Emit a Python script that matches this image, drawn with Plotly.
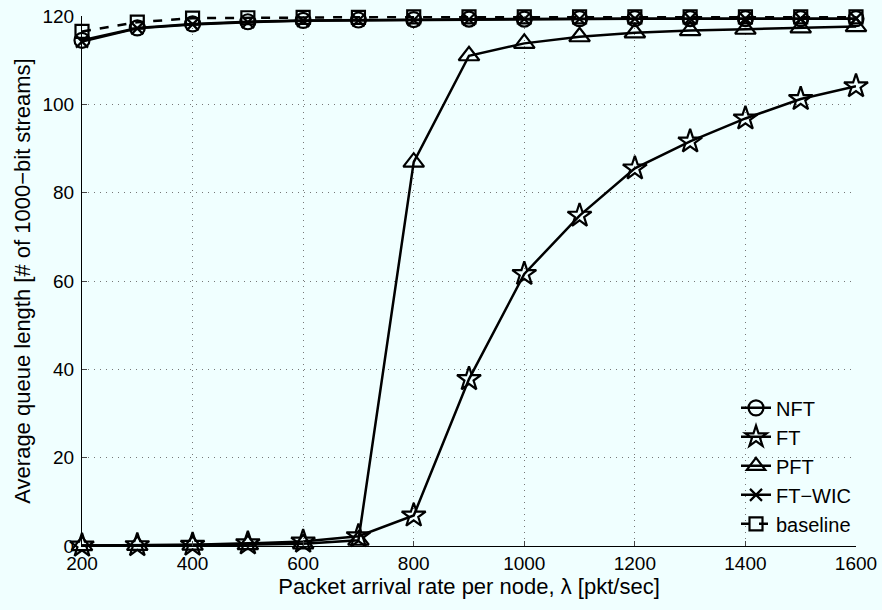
import plotly.graph_objects as go

# Packet arrival rate per node (pkt/sec)
arrival_rate = [200, 300, 400, 500, 600, 700, 800, 900, 1000, 1100, 1200, 1300, 1400, 1500, 1600]

# Average queue length for each scheme
nft = [114.5, 117.3, 118.2, 118.7, 119.0, 119.1, 119.2, 119.3, 119.3, 119.4, 119.4, 119.4, 119.4, 119.4, 119.4]
ft = [0.1, 0.2, 0.3, 0.6, 1.0, 2.2, 6.9, 37.8, 61.6, 74.8, 85.5, 91.6, 96.8, 101.2, 104.1]
pft = [0.1, 0.15, 0.2, 0.3, 0.5, 1.3, 86.9, 111.0, 113.8, 115.3, 116.2, 116.7, 117.0, 117.3, 117.6]
ft_wic = [114.2, 117.2, 118.1, 118.6, 118.9, 119.0, 119.1, 119.2, 119.3, 119.3, 119.4, 119.4, 119.4, 119.4, 119.4]
baseline = [116.5, 118.6, 119.5, 119.6, 119.7, 119.7, 119.8, 119.8, 119.8, 119.8, 119.8, 119.8, 119.8, 119.8, 119.8]

x_ticks = [200, 400, 600, 800, 1000, 1200, 1400, 1600]
y_ticks = [0, 20, 40, 60, 80, 100, 120]

series = [
    ("NFT", nft, "circle-open", "solid", 15),
    ("FT", ft, "star-open", "solid", 18),
    ("PFT", pft, "triangle-up-open", "solid", 18),
    ("FT−WIC", ft_wic, "x-thin-open", "solid", 12),
    ("baseline", baseline, "square-open", "dash", 13),
]

fig = go.Figure()
for name, values, symbol, dash, size in series:
    fig.add_trace(go.Scatter(
        x=arrival_rate, y=values, name=name, mode="lines+markers",
        line=dict(color="black", width=2.5, dash=dash),
        marker=dict(symbol=symbol, size=size, color="black",
                    line=dict(color="black", width=2.2)),
        cliponaxis=False,
    ))

bg = "#F0FFFF"
font = "Liberation Sans, Arial, Helvetica, sans-serif"
grid = dict(showgrid=True, gridcolor="#777777", griddash="1px,5px", gridwidth=1)

fig.update_layout(
    width=882, height=610,
    margin=dict(l=82, r=26, t=16, b=64),
    paper_bgcolor=bg, plot_bgcolor=bg,
    font=dict(family=font, size=19, color="black"),
    showlegend=True,
    legend=dict(x=1.0, xanchor="right", y=0.005, yanchor="bottom",
                bgcolor="rgba(0,0,0,0)", font=dict(size=20),
                tracegroupgap=0, itemwidth=30),
)
fig.update_xaxes(
    range=[200, 1600], tickvals=x_ticks, ticks="inside", ticklen=5,
    showline=True, linecolor="black", linewidth=1, mirror=False,
    zeroline=False, tickfont=dict(size=19), automargin=False,
    title=dict(text="Packet arrival rate per node, λ [pkt/sec]", font=dict(size=22), standoff=2),
    **grid,
)
fig.update_yaxes(
    range=[0, 120], tickvals=y_ticks, ticks="inside", ticklen=5,
    showline=True, linecolor="black", linewidth=1, mirror=False,
    zeroline=False, tickfont=dict(size=19), automargin=False, ticklabelstandoff=3,
    title=dict(text="Average queue length [# of 1000−bit streams]", font=dict(size=22), standoff=5),
    **grid,
)

fig.write_html("out.html")
